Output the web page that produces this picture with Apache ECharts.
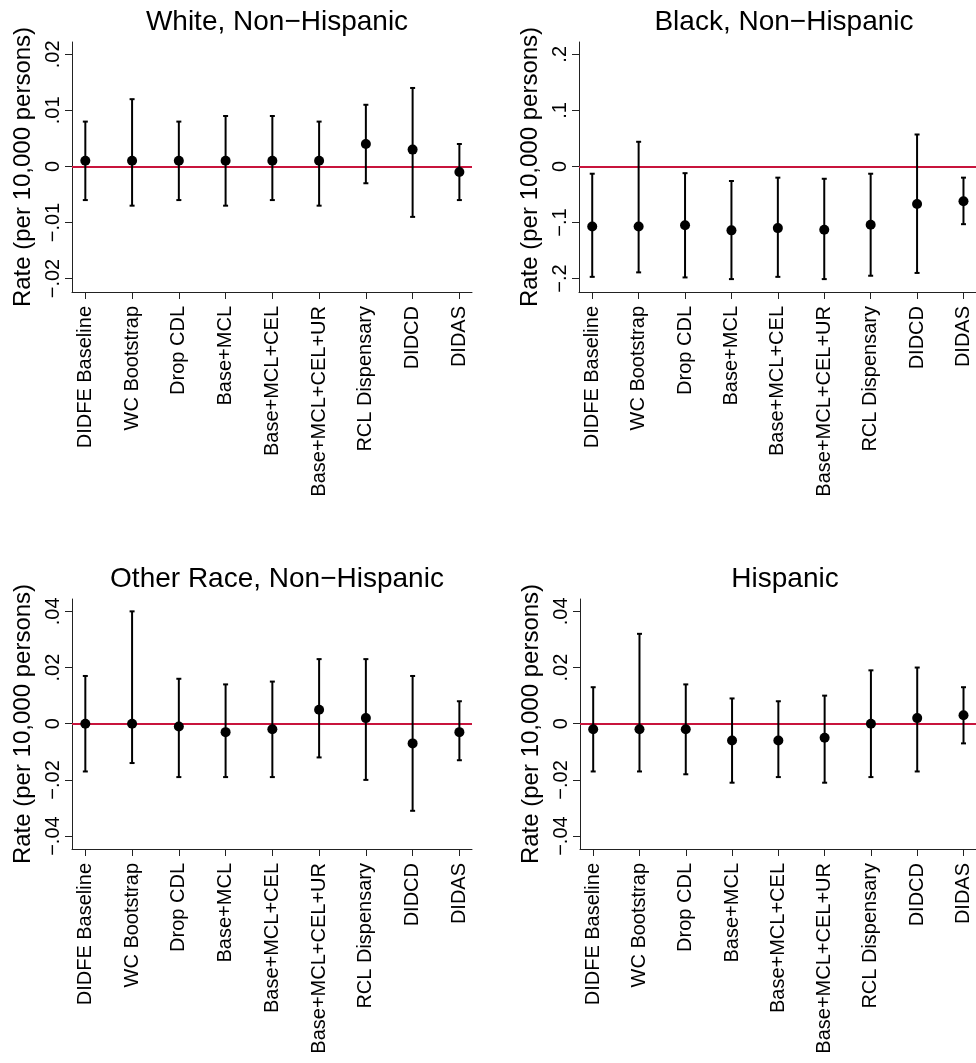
<!DOCTYPE html>
<html>
<head>
<meta charset="utf-8">
<script src="https://cdn.jsdelivr.net/npm/echarts@6/dist/echarts.min.js"></script>
<style>
  html, body { margin: 0; padding: 0; background: #fff; }
  #chart { width: 976px; height: 1063px; }
</style>
</head>
<body>
<div id="chart"></div>
<script>
var categories = ['DIDFE Baseline', 'WC Bootstrap', 'Drop CDL', 'Base+MCL', 'Base+MCL+CEL',
  'Base+MCL+CEL+UR', 'RCL Dispensary', 'DIDCD', 'DIDAS'];

var whiteEst = [0.001, 0.001, 0.001, 0.001, 0.001, 0.001, 0.004, 0.003, -0.001];
var whiteLo  = [-0.006, -0.007, -0.006, -0.007, -0.006, -0.007, -0.003, -0.009, -0.006];
var whiteHi  = [0.008, 0.012, 0.008, 0.009, 0.009, 0.008, 0.011, 0.014, 0.004];

var blackEst = [-0.107, -0.107, -0.105, -0.114, -0.110, -0.113, -0.104, -0.067, -0.062];
var blackLo  = [-0.197, -0.189, -0.198, -0.201, -0.197, -0.201, -0.195, -0.190, -0.103];
var blackHi  = [-0.013, 0.044, -0.012, -0.026, -0.020, -0.022, -0.013, 0.057, -0.020];

var otherEst = [0.000, 0.000, -0.001, -0.003, -0.002, 0.005, 0.002, -0.007, -0.003];
var otherLo  = [-0.017, -0.014, -0.019, -0.019, -0.019, -0.012, -0.020, -0.031, -0.013];
var otherHi  = [0.017, 0.040, 0.016, 0.014, 0.015, 0.023, 0.023, 0.017, 0.008];

var hispEst = [-0.002, -0.002, -0.002, -0.006, -0.006, -0.005, 0.000, 0.002, 0.003];
var hispLo  = [-0.017, -0.017, -0.018, -0.021, -0.019, -0.021, -0.019, -0.017, -0.007];
var hispHi  = [0.013, 0.032, 0.014, 0.009, 0.008, 0.010, 0.019, 0.020, 0.013];

var whiteTicks = [-0.02, -0.01, 0, 0.01, 0.02];
var blackTicks = [-0.2, -0.1, 0, 0.1, 0.2];
var otherTicks = [-0.04, -0.02, 0, 0.02, 0.04];
var hispTicks  = [-0.04, -0.02, 0, 0.02, 0.04];

var titles = ['White, Non\u2212Hispanic', 'Black, Non\u2212Hispanic', 'Other Race, Non\u2212Hispanic', 'Hispanic'];

var FONT = '"Liberation Sans", Arial, Helvetica, sans-serif';

var panels = [
  { title: titles[0], est: whiteEst, lo: whiteLo, hi: whiteHi, ticks: whiteTicks, range: [-0.0224, 0.0222],
    left: 72, top: 42, height: 250 },
  { title: titles[1], est: blackEst, lo: blackLo, hi: blackHi, ticks: blackTicks, range: [-0.224, 0.222],
    left: 579, top: 42, height: 250 },
  { title: titles[2], est: otherEst, lo: otherLo, hi: otherHi, ticks: otherTicks, range: [-0.0446, 0.0444],
    left: 72, top: 599, height: 250 },
  { title: titles[3], est: hispEst, lo: hispLo, hi: hispHi, ticks: hispTicks, range: [-0.0446, 0.0444],
    left: 580, top: 599, height: 250 }
];

// Stata style tick labels: .02, −.01, 0
function stataNum(v) {
  if (v === 0) return '0';
  var s = String(Math.abs(v)).replace(/^0/, '');
  return (v < 0 ? '\u2212' : '') + s;
}

function errBar(params, api) {
  var x = api.value(0);
  var top = api.coord([x, api.value(2)]);
  var bot = api.coord([x, api.value(1)]);
  var st = { stroke: '#000', lineWidth: 2 };
  return {
    type: 'group',
    children: [
      { type: 'line', shape: { x1: top[0], y1: top[1], x2: bot[0], y2: bot[1] }, style: st },
      { type: 'line', shape: { x1: top[0] - 2.5, y1: top[1], x2: top[0] + 2.5, y2: top[1] }, style: st },
      { type: 'line', shape: { x1: bot[0] - 2.5, y1: bot[1], x2: bot[0] + 2.5, y2: bot[1] }, style: st }
    ]
  };
}

var idx = categories.map(function (c, i) { return i; });
var axisCol = '#222';

var option = {
  animation: false,
  backgroundColor: '#fff',
  title: [], grid: [], xAxis: [], yAxis: [], series: []
};

panels.forEach(function (p, k) {
  option.title.push({
    text: p.title,
    left: p.left + 200,
    top: p.top - 39,
    textAlign: 'center',
    textStyle: { fontFamily: FONT, fontSize: 28, fontWeight: 'normal', color: '#000' }
  });
  option.grid.push({ left: p.left, top: p.top, width: 400, height: p.height, containLabel: false });
  option.xAxis.push({
    type: 'value', gridIndex: k, min: -0.285, max: 8.27,
    splitLine: { show: false },
    axisLine: { show: true, onZero: false, lineStyle: { color: axisCol, width: 1 } },
    axisTick: { show: true, length: 7, customValues: idx, lineStyle: { color: axisCol, width: 1 } },
    axisLabel: {
      customValues: idx, rotate: 90, margin: 14,
      fontFamily: FONT, fontSize: 20, color: '#000',
      formatter: function (v) { return categories[Math.round(v)]; }
    }
  });
  option.yAxis.push({
    type: 'value', gridIndex: k, min: p.range[0], max: p.range[1],
    name: 'Rate (per 10,000 persons)', nameLocation: 'middle', nameRotate: 90, nameGap: 37,
    nameTextStyle: { fontFamily: FONT, fontSize: 24, color: '#000' },
    splitLine: { show: false },
    axisLine: { show: true, onZero: false, lineStyle: { color: axisCol, width: 1 } },
    axisTick: { show: true, length: 7, customValues: p.ticks, lineStyle: { color: axisCol, width: 1 } },
    axisLabel: {
      customValues: p.ticks, rotate: 90, margin: 9,
      fontFamily: FONT, fontSize: 20, color: '#000',
      formatter: stataNum
    }
  });
  option.series.push({
    type: 'custom', xAxisIndex: k, yAxisIndex: k, z: 3,
    renderItem: errBar,
    data: idx.map(function (i) { return [i, p.lo[i], p.hi[i]]; }),
    markLine: {
      silent: true, symbol: 'none', z: 1,
      label: { show: false },
      lineStyle: { color: '#C8143C', width: 2, type: 'solid' },
      data: [{ yAxis: 0 }]
    }
  });
  option.series.push({
    type: 'scatter', xAxisIndex: k, yAxisIndex: k, z: 4,
    symbol: 'circle', symbolSize: 10,
    itemStyle: { color: '#000', opacity: 1 },
    data: idx.map(function (i) { return [i, p.est[i]]; })
  });
});

var myChart = echarts.init(document.getElementById('chart'));
myChart.setOption(option);

window.onresize = function () { myChart.resize(); };
</script>
</body>
</html>
